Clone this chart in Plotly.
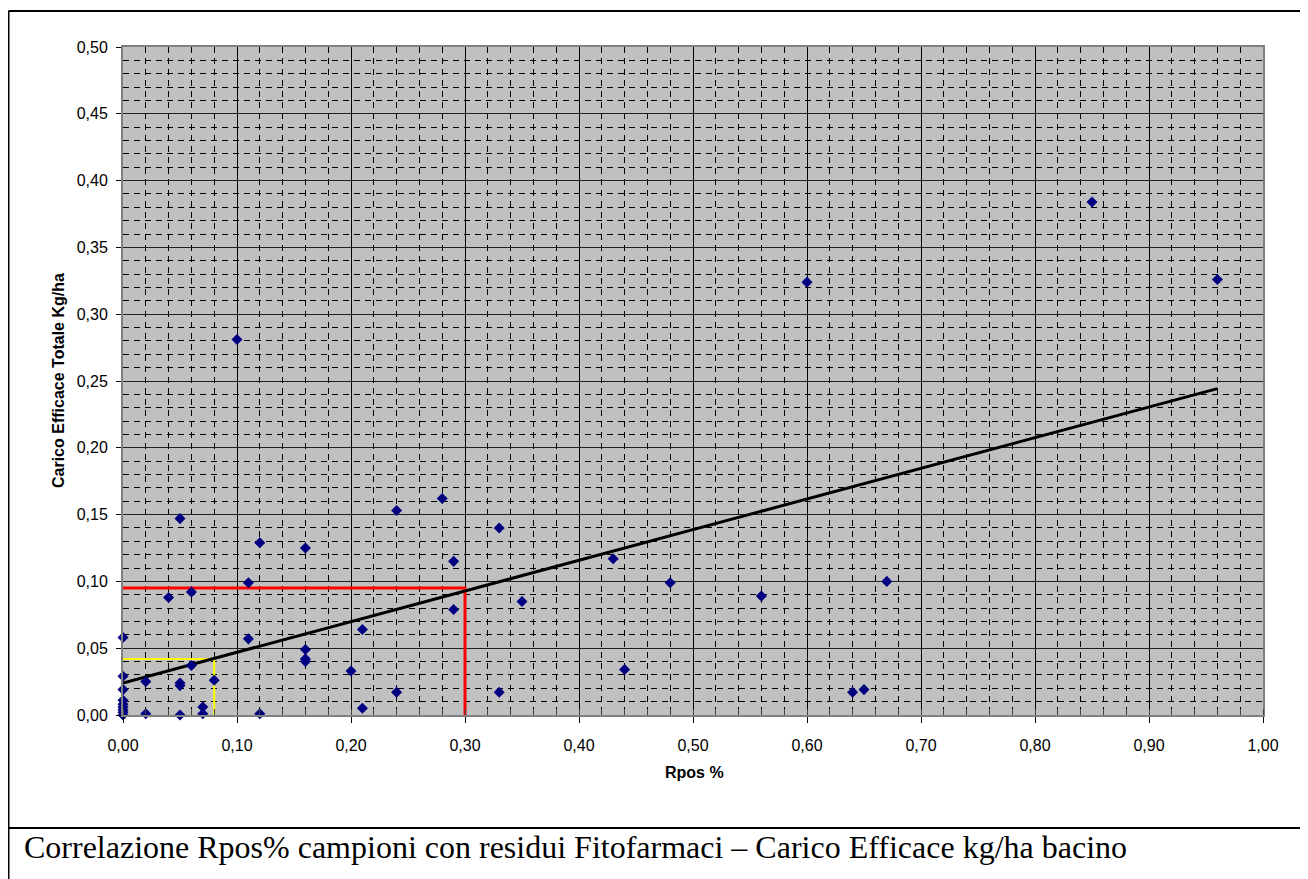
import plotly.graph_objects as go

# ---- data ----
rpos = [0.10, 0.60, 0.85, 0.96, 0.05, 0.12, 0.16, 0.24, 0.28, 0.33,
        0.29, 0.43, 0.11, 0.04, 0.06, 0.48, 0.67, 0.56, 0.35, 0.29,
        0.21, 0.11, 0.00, 0.16, 0.16, 0.16, 0.06, 0.20, 0.44, 0.00,
        0.02, 0.05, 0.05, 0.08, 0.00, 0.00, 0.00, 0.00, 0.00, 0.00,
        0.00, 0.02, 0.05, 0.07, 0.07, 0.12, 0.21, 0.24, 0.33, 0.64, 0.65]
carico = [0.281, 0.324, 0.384, 0.326, 0.147, 0.129, 0.125, 0.153, 0.162, 0.140,
          0.115, 0.117, 0.099, 0.088, 0.092, 0.099, 0.100, 0.089, 0.085, 0.079,
          0.064, 0.057, 0.058, 0.049, 0.042, 0.040, 0.037, 0.033, 0.034, 0.029,
          0.025, 0.024, 0.022, 0.026, 0.019, 0.011, 0.008, 0.006, 0.004, 0.002,
          0.000, 0.001, 0.000, 0.006, 0.001, 0.001, 0.005, 0.017, 0.017, 0.017, 0.019]

trend_intercept = 0.024
trend_slope = 0.2295
trend_x = [0.0, 0.96]

red_x = [0.0, 0.30, 0.30]
red_y = [0.095, 0.095, 0.0]
yellow_x = [0.0, 0.08, 0.08]
yellow_y = [0.042, 0.042, 0.0]

x_title = "Rpos %"
y_title = "Carico Efficace Totale Kg/ha"
caption = "Correlazione Rpos% campioni con residui Fitofarmaci \u2013 Carico Efficace kg/ha bacino"

# ---- geometry (figure pixels; the page adds an 8px body margin) ----
W, H = 1300, 871
L, R, T, B = 115, 1255, 39, 707
pw, ph = R - L, B - T


def px(x):
    return (x - L) / pw


def py(y):
    return (B - y) / ph


fig = go.Figure()

fig.add_trace(go.Scatter(x=red_x, y=red_y, mode="lines",
                         line=dict(color="#FF0000", width=3), showlegend=False,
                         cliponaxis=False, hoverinfo="skip"))
fig.add_trace(go.Scatter(x=yellow_x, y=yellow_y, mode="lines",
                         line=dict(color="#FFFF00", width=2), showlegend=False,
                         cliponaxis=False, hoverinfo="skip"))
fig.add_trace(go.Scatter(x=trend_x, y=[trend_intercept + trend_slope * v for v in trend_x],
                         mode="lines", line=dict(color="black", width=3),
                         showlegend=False, hoverinfo="skip"))
fig.add_trace(go.Scatter(x=rpos, y=carico, mode="markers",
                         marker=dict(symbol="diamond", size=8.5, color="#000080"),
                         showlegend=False, cliponaxis=False))

tickfont = dict(family="Liberation Sans, Arial, sans-serif", size=16, color="black")

fig.update_xaxes(range=[0, 1], dtick=0.1, tick0=0, tickformat=".2f",
                 showgrid=True, gridcolor="black", gridwidth=1,
                 ticks="outside", ticklen=6, tickcolor="black",
                 ticklabelstandoff=9,
                 showline=True, linecolor="#808080", linewidth=2, mirror=True,
                 zeroline=False, tickfont=tickfont,
                 minor=dict(dtick=0.02, showgrid=True, gridcolor="black",
                            gridwidth=1, griddash="6px,5px",
                            ticks="inside", ticklen=6, tickcolor="#404040"))
fig.update_yaxes(range=[0, 0.5], dtick=0.05, tick0=0, tickformat=".2f",
                 showgrid=True, gridcolor="#202020", gridwidth=1,
                 ticks="outside", ticklen=5, tickcolor="black",
                 ticklabelstandoff=5,
                 showline=True, linecolor="#808080", linewidth=2, mirror=True,
                 zeroline=False, tickfont=tickfont,
                 minor=dict(dtick=0.01, showgrid=True, gridcolor="black",
                            gridwidth=1, griddash="6px,5px"))

shapes = [
    # outer frame (top, left) and caption divider
    dict(type="line", xref="paper", yref="paper", x0=px(0.5), x1=px(W), y0=py(3), y1=py(3),
         line=dict(color="black", width=2)),
    dict(type="line", xref="paper", yref="paper", x0=px(0.5), x1=px(0.5), y0=py(3), y1=py(H),
         line=dict(color="black", width=2)),
    dict(type="line", xref="paper", yref="paper", x0=px(0.5), x1=px(W), y0=py(820), y1=py(820),
         line=dict(color="black", width=2)),
]

annotations = [
    dict(text="<b>" + x_title + "</b>", xref="paper", yref="paper", x=px(686), y=py(764),
         showarrow=False, xanchor="center", yanchor="middle",
         font=dict(family="Liberation Sans, Arial, sans-serif", size=16, color="black")),
    dict(text="<b>" + y_title + "</b>", xref="paper", yref="paper", x=px(50), y=py(373),
         showarrow=False, xanchor="center", yanchor="middle", textangle=-90,
         font=dict(family="Liberation Sans, Arial, sans-serif", size=16, color="black")),
    dict(text=caption, xref="paper", yref="paper", x=px(14), y=py(839),
         showarrow=False, xanchor="left", yanchor="middle",
         font=dict(family="Liberation Serif, Times New Roman, serif", size=32, color="black")),
]

fig.update_layout(width=W, height=H, autosize=False,
                  margin=dict(l=L, r=W - R, t=T, b=H - B),
                  paper_bgcolor="white", plot_bgcolor="#C0C0C0",
                  separators=",.", shapes=shapes, annotations=annotations,
                  showlegend=False)

fig.write_html("out.html")
